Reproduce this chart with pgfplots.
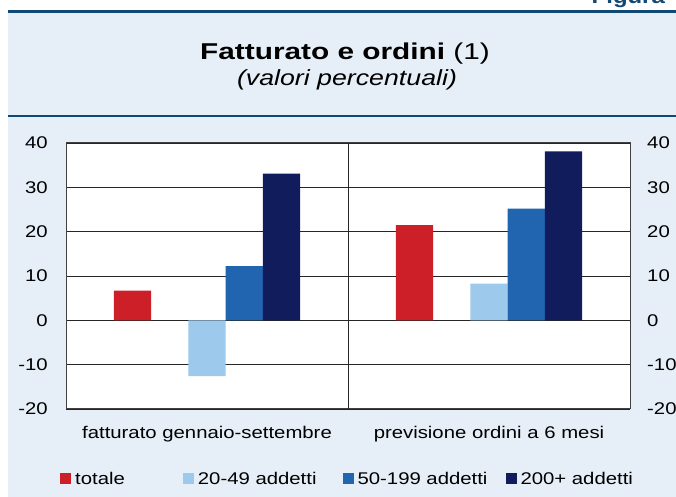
\documentclass[border=0pt]{standalone}
\usepackage{fontspec}
\setmainfont{Liberation Sans}[FakeStretch=1.2]
\newfontfamily\titlefont{Liberation Sans}[FakeStretch=1.3]
\newfontfamily\subfont{Liberation Sans}[FakeStretch=1.22]
\usepackage{pgfplots}
\pgfplotsset{compat=1.18}
\definecolor{bgblue}{RGB}{230,239,247}
\definecolor{lineblue}{RGB}{18,72,116}
\definecolor{cred}{RGB}{204,31,40}
\definecolor{clight}{RGB}{157,201,236}
\definecolor{cmid}{RGB}{33,100,176}
\definecolor{cnavy}{RGB}{16,28,92}
\pgfplotsset{sq/.style={legend image code/.code={\fill[##1,draw=none] (0bp,-5.5bp) rectangle (11bp,5.5bp);}}}
\begin{document}
\begin{tikzpicture}[x=1bp,y=1bp]
\useasboundingbox (0,0) rectangle (676,497);
\fill[white] (0,0) rectangle (676,497);
\fill[bgblue] (8,0) rectangle (676,484);
\fill[lineblue] (8,484) rectangle (676,486.5);
\begin{scope}
\clip (0,486.5) rectangle (676,497);
\node[anchor=base east, inner sep=0pt, text=lineblue, font=\fontsize{20}{24}\selectfont\bfseries] at (665,493) {Figura};
\end{scope}
\fill[lineblue] (8,379.5) rectangle (676,381.5);
\node[anchor=base, inner sep=0pt, font=\titlefont\fontsize{23}{27}\selectfont] at (345,437) {\textbf{Fatturato e ordini} (1)};
\node[anchor=base, inner sep=0pt, font=\subfont\fontsize{22}{26}\selectfont\itshape] at (347,411) {(valori percentuali)};
\begin{axis}[
  at={(66bp,88bp)}, anchor=south west, scale only axis,
  width=564bp, height=266bp,
  xmin=-0.5, xmax=1.5, ymin=-20, ymax=40,
  axis background/.style={fill=white},
  axis line style={draw=black!75, line width=1bp},
  ytick={-20,-10,...,40}, yticklabels={-20,-10,0,10,20,30,40},
  ymajorgrids, major grid style={black!85, line width=0.9bp},
  major tick length=0pt,
  xtick={0,1}, xticklabels={fatturato gennaio-settembre, previsione ordini a 6 mesi},
  extra x ticks={0.5}, extra x tick labels={}, extra x tick style={grid=major},
  yticklabel style={anchor=east, inner sep=0pt, xshift=-18bp, font=\fontsize{17}{20}\selectfont},
  xticklabel style={anchor=base, inner sep=0pt, yshift=-30bp, font=\fontsize{17}{20}\selectfont},
  ybar, bar width=0.132,
  legend columns=4,
  legend style={at={(axis description cs:-0.0106,-0.263)}, anchor=west, draw=none, fill=none, inner sep=0pt, font=\fontsize{17}{20}\selectfont,
    /tikz/column 1/.style={column sep=4bp},
    /tikz/column 2/.style={column sep=58bp},
    /tikz/column 3/.style={column sep=4bp},
    /tikz/column 4/.style={column sep=26bp},
    /tikz/column 5/.style={column sep=4bp},
    /tikz/column 6/.style={column sep=18bp},
    /tikz/column 7/.style={column sep=4bp},
    nodes={inner sep=0pt}},
]
\addplot[bar shift=0pt, fill=cred, draw=none, sq] coordinates {(-0.264,6.7) (0.736,21.5)};
\addplot[bar shift=0pt, fill=clight, draw=none, sq] coordinates {(0,-12.6) (1,8.3)};
\addplot[bar shift=0pt, fill=cmid, draw=none, sq] coordinates {(0.132,12.2) (1.132,25.2)};
\addplot[bar shift=0pt, fill=cnavy, draw=none, sq] coordinates {(0.264,33.1) (1.264,38.1)};
\legend{totale, 20-49 addetti, 50-199 addetti, 200+ addetti}
\end{axis}
\begin{axis}[
  at={(66bp,88bp)}, anchor=south west, scale only axis,
  width=564bp, height=266bp,
  xmin=-0.5, xmax=1.5, ymin=-20, ymax=40,
  axis y line*=right, axis x line=none,
  axis line style={draw=black!75, line width=1bp},
  ytick={-20,-10,...,40}, yticklabels={-20,-10,0,10,20,30,40},
  major tick length=0pt,
  yticklabel style={anchor=west, inner sep=0pt, xshift=17bp, font=\fontsize{17}{20}\selectfont},
]
\end{axis}
\end{tikzpicture}
\end{document}
